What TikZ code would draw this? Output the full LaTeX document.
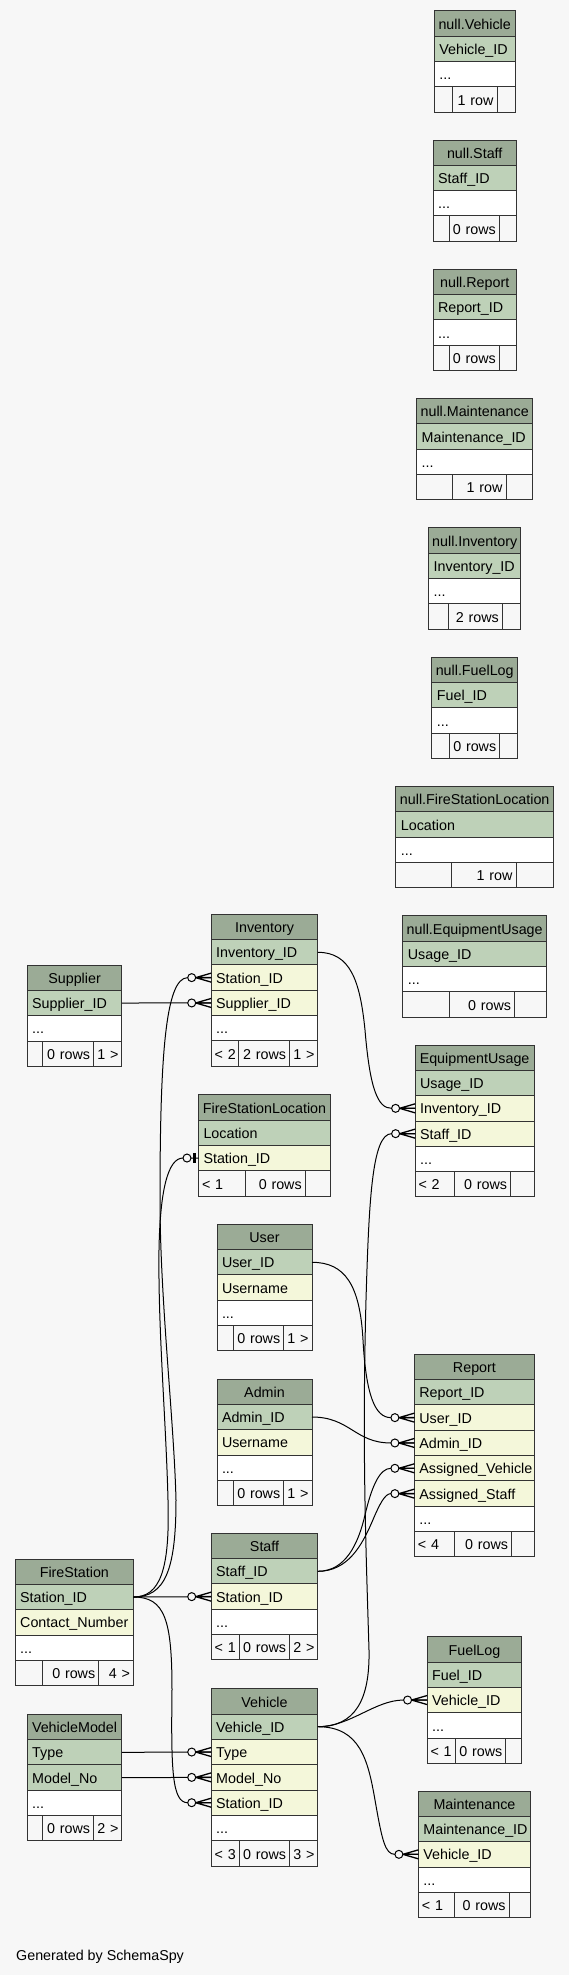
\documentclass[tikz,border=0pt]{standalone}
\usepackage{fontspec}
\setmainfont{Liberation Sans}
\usetikzlibrary{calc}
\definecolor{bgc}{HTML}{F7F7F7}
\definecolor{hdrc}{HTML}{9BAB96}
\definecolor{pkc}{HTML}{BED1B8}
\definecolor{fkc}{HTML}{F4F7DA}
\definecolor{bdr}{HTML}{333333}
\tikzset{
  cell/.style={draw=bdr, line width=1pt, rectangle, inner ysep=0pt, outer sep=0pt,
    minimum height=25.33pt, text height=11.5pt, text depth=0.2pt,
    font=\fontsize{14.3pt}{16pt}\selectfont, anchor=north west},
  hdr/.style={cell, fill=hdrc, inner xsep=2pt, align=center},
  pk/.style={cell, fill=pkc, inner xsep=5pt, align=left},
  fk/.style={cell, fill=fkc, inner xsep=5pt, align=left},
  dots/.style={cell, fill=white, inner xsep=5pt, align=left},
  ftl/.style={cell, fill=bgc, inner xsep=3.5pt, align=left},
  ftr/.style={cell, fill=bgc, inner xsep=3.5pt, align=right},
  conn/.style={draw=black, line width=1pt},
  ring/.style={draw=black, line width=1pt, fill=bgc},
  crowline/.style={draw=black, line width=1.3pt},
  teebar/.style={draw=black, line width=2.4pt},
  caption/.style={font=\fontsize{14.3pt}{16pt}\selectfont, anchor=base west, inner sep=0pt}
}
\newcommand\tabhead[5]{\pgfmathsetmacro\myTabW{#4}\pgfmathsetmacro\myTw{#4-4}%
  \node[hdr, minimum width=#4pt, text width=\myTw pt] (#1) at (#2,#3) {#5};}
\newcommand\tabrow[4]{\pgfmathsetmacro\myTw{\myTabW-10}%
  \node[#1, minimum width=\myTabW pt, text width=\myTw pt] (#2) at (#3.south west) {#4};}
\newcommand\tabfoot[8]{%
  \pgfmathsetmacro\myWa{#4-#3}\pgfmathsetmacro\myWb{#5-#4}\pgfmathsetmacro\myWc{#3+\myTabW-#5}%
  \pgfmathsetmacro\myTa{\myWa-7}\pgfmathsetmacro\myTb{\myWb-7}\pgfmathsetmacro\myTc{\myWc-7}%
  \node[ftl, minimum width=\myWa pt, text width=\myTa pt] (#1-l) at (#2.south west) {\mbox{#6}};
  \node[ftr, minimum width=\myWb pt, text width=\myTb pt] (#1-m) at (#1-l.north east) {\mbox{#7}};
  \node[ftr, minimum width=\myWc pt, text width=\myTc pt] (#1-r) at (#1-m.north east) {\mbox{#8}};}
\newcommand\nulltab[9]{% name, x, y, w, head, pk, d1, d2, rows
  \tabhead{#1}{#2}{#3}{#4}{#5}
  \tabrow{pk}{#1-id}{#1}{#6}
  \tabrow{dots}{#1-dots}{#1-id}{...}
  \tabfoot{#1-f}{#1-dots}{#2}{#7}{#8}{}{#9}{}}
\newcommand\crowend[1]{%
  \draw[ring] ($(#1.west)+(-19.5,0)$) circle[radius=4];
  \draw[crowline] ($(#1.west)+(-15.5,0)$) -- ($(#1.west)+(0,-4.5)$)
    ($(#1.west)+(-15.5,0)$) -- (#1.west)
    ($(#1.west)+(-15.5,0)$) -- ($(#1.west)+(0,4.5)$);}
\newcommand\teeend[1]{%
  \draw[ring] ($(#1.west)+(-11.5,0)$) circle[radius=4];
  \draw[teebar] ($(#1.west)+(-4,-5)$) -- ($(#1.west)+(-4,5)$);}
\begin{document}
\begin{tikzpicture}[x=1pt, y=-1pt]
\fill[bgc] (0,0) rectangle (569,1975);
\useasboundingbox (0,0) rectangle (569,1975);

% ---------- null tables ----------
\nulltab{nveh}{434.35}{10.7}{80.7}{null.Vehicle}{Vehicle\_ID}{452}{497}{1~row}
\nulltab{nstf}{433.2}{140}{83}{null.Staff}{Staff\_ID}{449.3}{499.3}{0~rows}
\nulltab{nrep}{433.05}{269.3}{83.3}{null.Report}{Report\_ID}{449.3}{499.3}{0~rows}
\nulltab{nmt}{416.7}{398.6}{116}{null.Maintenance}{Maintenance\_ID}{452.7}{506}{1~row}
\nulltab{ninv}{428.7}{527.9}{92}{null.Inventory}{Inventory\_ID}{448.7}{502.3}{2~rows}
\nulltab{nfl}{431.9}{657.2}{85.6}{null.FuelLog}{Fuel\_ID}{449.3}{499.7}{0~rows}
\nulltab{nfsl}{395.9}{786.5}{157.6}{null.FireStationLocation}{Location}{451.7}{516}{1~row}
\nulltab{neu}{402.9}{915.8}{143.6}{null.EquipmentUsage}{Usage\_ID}{449.2}{514.5}{0~rows}

% ---------- Inventory ----------
\tabhead{inv}{211.2}{914.3}{106.7}{Inventory}
\tabrow{pk}{inv-id}{inv}{Inventory\_ID}
\tabrow{fk}{inv-sta}{inv-id}{Station\_ID}
\tabrow{fk}{inv-sup}{inv-sta}{Supplier\_ID}
\tabrow{dots}{inv-dots}{inv-sup}{...}
\tabfoot{inv-f}{inv-dots}{211.2}{238.8}{289.6}{<~2}{2~rows}{1~>}

% ---------- Supplier ----------
\tabhead{sup}{27.2}{965}{94.7}{Supplier}
\tabrow{pk}{sup-id}{sup}{Supplier\_ID}
\tabrow{dots}{sup-dots}{sup-id}{...}
\tabfoot{sup-f}{sup-dots}{27.2}{42.8}{93.6}{}{0~rows}{1~>}

% ---------- EquipmentUsage ----------
\tabhead{eu}{415.1}{1045}{119}{EquipmentUsage}
\tabrow{pk}{eu-id}{eu}{Usage\_ID}
\tabrow{fk}{eu-inv}{eu-id}{Inventory\_ID}
\tabrow{fk}{eu-stf}{eu-inv}{Staff\_ID}
\tabrow{dots}{eu-dots}{eu-stf}{...}
\tabfoot{eu-f}{eu-dots}{415.1}{454.6}{510.5}{<~2}{0~rows}{}

% ---------- FireStationLocation ----------
\tabhead{fsl}{198.5}{1094.7}{132.1}{FireStationLocation}
\tabrow{pk}{fsl-loc}{fsl}{Location}
\tabrow{fk}{fsl-sta}{fsl-loc}{Station\_ID}
\tabfoot{fsl-f}{fsl-sta}{198.5}{245.3}{305.2}{<~1}{0~rows}{}

% ---------- User ----------
\tabhead{usr}{217}{1224.3}{95}{User}
\tabrow{pk}{usr-id}{usr}{User\_ID}
\tabrow{fk}{usr-name}{usr-id}{Username}
\tabrow{dots}{usr-dots}{usr-name}{...}
\tabfoot{usr-f}{usr-dots}{217}{233.3}{283.7}{}{0~rows}{1~>}

% ---------- Admin ----------
\tabhead{adm}{217}{1379}{95}{Admin}
\tabrow{pk}{adm-id}{adm}{Admin\_ID}
\tabrow{fk}{adm-name}{adm-id}{Username}
\tabrow{dots}{adm-dots}{adm-name}{...}
\tabfoot{adm-f}{adm-dots}{217}{233.3}{283.7}{}{0~rows}{1~>}

% ---------- Report ----------
\tabhead{rep}{414.4}{1354.3}{120.1}{Report}
\tabrow{pk}{rep-id}{rep}{Report\_ID}
\tabrow{fk}{rep-uid}{rep-id}{User\_ID}
\tabrow{fk}{rep-aid}{rep-uid}{Admin\_ID}
\tabrow{fk}{rep-av}{rep-aid}{Assigned\_Vehicle}
\tabrow{fk}{rep-as}{rep-av}{Assigned\_Staff}
\tabrow{dots}{rep-dots}{rep-as}{...}
\tabfoot{rep-f}{rep-dots}{414.4}{454.3}{511.6}{<~4}{0~rows}{}

% ---------- Staff ----------
\tabhead{stf}{211.2}{1533.3}{106.7}{Staff}
\tabrow{pk}{stf-id}{stf}{Staff\_ID}
\tabrow{fk}{stf-sta}{stf-id}{Station\_ID}
\tabrow{dots}{stf-dots}{stf-sta}{...}
\tabfoot{stf-f}{stf-dots}{211.2}{239.1}{289.6}{<~1}{0~rows}{2~>}

% ---------- FireStation ----------
\tabhead{fs}{15.2}{1559}{118.3}{FireStation}
\tabrow{pk}{fs-id}{fs}{Station\_ID}
\tabrow{fk}{fs-con}{fs-id}{Contact\_Number}
\tabrow{dots}{fs-dots}{fs-con}{...}
\tabfoot{fs-f}{fs-dots}{15.2}{42.5}{98.7}{}{0~rows}{4~>}

% ---------- FuelLog ----------
\tabhead{fl}{427.1}{1636.7}{94.7}{FuelLog}
\tabrow{pk}{fl-id}{fl}{Fuel\_ID}
\tabrow{fk}{fl-vid}{fl-id}{Vehicle\_ID}
\tabrow{dots}{fl-dots}{fl-vid}{...}
\tabfoot{fl-f}{fl-dots}{427.1}{455.4}{505.8}{<~1}{0~rows}{}

% ---------- Vehicle ----------
\tabhead{veh}{211.2}{1688.7}{106.7}{Vehicle}
\tabrow{pk}{veh-id}{veh}{Vehicle\_ID}
\tabrow{fk}{veh-type}{veh-id}{Type}
\tabrow{fk}{veh-model}{veh-type}{Model\_No}
\tabrow{fk}{veh-sta}{veh-model}{Station\_ID}
\tabrow{dots}{veh-dots}{veh-sta}{...}
\tabfoot{veh-f}{veh-dots}{211.2}{239.1}{289.6}{<~3}{0~rows}{3~>}

% ---------- VehicleModel ----------
\tabhead{vm}{27.2}{1714.3}{94.7}{VehicleModel}
\tabrow{pk}{vm-type}{vm}{Type}
\tabrow{pk}{vm-model}{vm-type}{Model\_No}
\tabrow{dots}{vm-dots}{vm-model}{...}
\tabfoot{vm-f}{vm-dots}{27.2}{42.8}{93.6}{}{0~rows}{2~>}

% ---------- Maintenance ----------
\tabhead{mt}{418.4}{1791}{112.1}{Maintenance}
\tabrow{pk}{mt-id}{mt}{Maintenance\_ID}
\tabrow{fk}{mt-vid}{mt-id}{Vehicle\_ID}
\tabrow{dots}{mt-dots}{mt-vid}{...}
\tabfoot{mt-f}{mt-dots}{418.4}{454.3}{509.1}{<~1}{0~rows}{}

% ---------- connectors ----------
\draw[conn] (sup-id.east) -- (inv-sup.west);
\draw[conn] (fs-id.east) .. controls (165,1597) and (176,1570) .. (176,1500)
  .. controls (174,1420) and (160,1300) .. (160,1200)
  .. controls (160,1060) and (165,977.6) .. ($(inv-sta.west)+(-23.5,0)$) -- (inv-sta.west);
\draw[conn] (fs-id.east) .. controls (160,1597) and (170,1570) .. (168,1500)
  .. controls (166,1420) and (158,1330) .. (159,1250)
  .. controls (160,1190) and (168,1158) .. ($(fsl-sta.west)+(-15.5,0)$) -- (fsl-sta.west);
\draw[conn] (fs-id.east) -- (stf-sta.west);
\draw[conn] (fs-id.east) .. controls (165,1597) and (172,1620) .. (172,1690)
  .. controls (171,1770) and (172,1802.7) .. ($(veh-sta.west)+(-23.5,0)$) -- (veh-sta.west);
\draw[conn] (inv-id.east) .. controls (350,952.3) and (360,980) .. (365,1030)
  .. controls (370,1090) and (378,1108.3) .. ($(eu-inv.west)+(-23.5,0)$) -- (eu-inv.west);
\draw[conn] (veh-id.east) .. controls (355,1726.7) and (370,1700) .. (369,1650)
  .. controls (366,1550) and (362,1450) .. (366,1300)
  .. controls (369,1200) and (372,1133.7) .. ($(eu-stf.west)+(-23.5,0)$) -- (eu-stf.west);
\draw[conn] (stf-id.east) .. controls (345,1571.3) and (358,1545) .. (365,1515)
  .. controls (372,1485) and (380,1468.3) .. ($(rep-av.west)+(-23.5,0)$) -- (rep-av.west);
\draw[conn] (stf-id.east) .. controls (348,1571.3) and (362,1545) .. (372,1522)
  .. controls (380,1503) and (385,1493.7) .. ($(rep-as.west)+(-23.5,0)$) -- (rep-as.west);
\draw[conn] (usr-id.east) .. controls (345,1262.3) and (360,1285) .. (363,1340)
  .. controls (366,1395) and (375,1417.7) .. ($(rep-uid.west)+(-23.5,0)$) -- (rep-uid.west);
\draw[conn] (adm-id.east) .. controls (350,1417) and (355,1443) .. ($(rep-aid.west)+(-23.5,0)$) -- (rep-aid.west);
\draw[conn] (veh-id.east) .. controls (350,1726.7) and (375,1700) .. ($(fl-vid.west)+(-23.5,0)$) -- (fl-vid.west);
\draw[conn] (veh-id.east) .. controls (360,1726.7) and (368,1760) .. (375,1800)
  .. controls (382,1840) and (385,1854.3) .. ($(mt-vid.west)+(-23.5,0)$) -- (mt-vid.west);
\draw[conn] (vm-type.east) -- (veh-type.west);
\draw[conn] (vm-model.east) -- (veh-model.west);

% ---------- end markers ----------
\crowend{inv-sup}
\crowend{inv-sta}
\teeend{fsl-sta}
\crowend{stf-sta}
\crowend{veh-sta}
\crowend{eu-inv}
\crowend{eu-stf}
\crowend{rep-av}
\crowend{rep-as}
\crowend{rep-uid}
\crowend{rep-aid}
\crowend{fl-vid}
\crowend{mt-vid}
\crowend{veh-type}
\crowend{veh-model}

\node[caption] (gen) at (16,1960) {Generated by SchemaSpy};
\end{tikzpicture}
\end{document}
